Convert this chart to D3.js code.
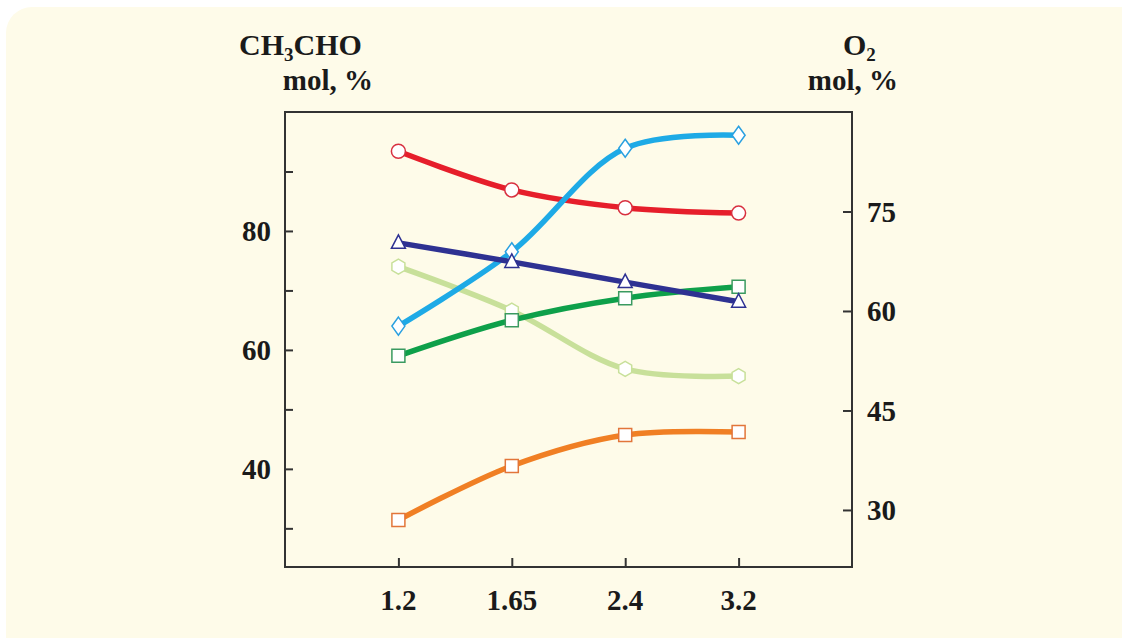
<!DOCTYPE html>
<html>
<head>
<meta charset="utf-8">
<script src="https://cdn.jsdelivr.net/npm/d3@7"></script>
<style>
  html, body { margin: 0; padding: 0; background: #ffffff; }
  svg { display: block; }
  text { font-family: "Liberation Serif", "Times New Roman", serif; font-weight: bold; fill: #1a1a1a; }
</style>
</head>
<body>
<svg id="chart"></svg>
<script>
// x categories (ratio)
var categories = ["1.2", "1.65", "2.4", "3.2"]

// series values, read on the left axis (CH3CHO mol, %)
var redCircles    = [93.4, 86.9, 83.9, 83.0]
var blueDiamonds  = [64.0, 76.5, 93.9, 96.1]
var navyTriangles = [78.0, 74.8, 71.4, 68.1]
var greenSquares  = [59.0, 65.0, 68.7, 70.6]
var paleHexagons  = [74.0, 66.6, 56.8, 55.6]
var orangeSquares = [31.4, 40.5, 45.7, 46.2]

var leftTicks = [30, 40, 50, 60, 70, 80, 90]
var leftLabels = [40, 60, 80]
var rightTicks = [30, 45, 60, 75]

var width = 1122
var height = 638

var svg = d3.select('#chart').attr('width', width).attr('height', height)

// cream panel
svg.append('rect')
  .attr('x', 6).attr('y', 7)
  .attr('width', width + 30).attr('height', height + 30)
  .attr('rx', 26)
  .attr('fill', '#fefbe9')

var plot = { left: 285, right: 852, top: 112, bottom: 567 }

var x = d3.scalePoint()
  .domain(categories)
  .range([plot.left, plot.right])
  .padding(1)

var yLeft = d3.scaleLinear().domain([23.5, 100]).range([plot.bottom, plot.top])
var yRight = d3.scaleLinear().domain([21.4, 90]).range([plot.bottom, plot.top])

// frame
svg.append('rect')
  .attr('x', plot.left).attr('y', plot.top)
  .attr('width', plot.right - plot.left).attr('height', plot.bottom - plot.top)
  .attr('fill', 'none')
  .attr('stroke', '#333')
  .attr('stroke-width', 2)

// axes with inward ticks
var axL = svg.append('g').attr('transform', 'translate(' + plot.left + ',0)')
  .call(d3.axisRight(yLeft).tickValues(leftTicks).tickSize(8).tickFormat(''))
var axR = svg.append('g').attr('transform', 'translate(' + plot.right + ',0)')
  .call(d3.axisLeft(yRight).tickValues(rightTicks).tickSize(9).tickFormat(''))
var axB = svg.append('g').attr('transform', 'translate(0,' + plot.bottom + ')')
  .call(d3.axisTop(x).tickSize(9).tickFormat(''))
;[axL, axR, axB].forEach(function (a) {
  a.select('.domain').remove()
  a.selectAll('line').attr('stroke', '#333').attr('stroke-width', 2)
})

// tick labels
svg.append('g').selectAll('text')
  .data(leftLabels)
  .enter().append('text')
    .attr('x', 271)
    .attr('y', function (d) { return yLeft(d) })
    .attr('dy', '0.36em')
    .attr('text-anchor', 'end')
    .attr('font-size', 29)
    .text(function (d) { return d })

svg.append('g').selectAll('text')
  .data(rightTicks)
  .enter().append('text')
    .attr('x', 867)
    .attr('y', function (d) { return yRight(d) })
    .attr('dy', '0.36em')
    .attr('text-anchor', 'start')
    .attr('font-size', 29)
    .text(function (d) { return d })

svg.append('g').selectAll('text')
  .data(categories)
  .enter().append('text')
    .attr('x', function (d) { return x(d) })
    .attr('y', 610)
    .attr('text-anchor', 'middle')
    .attr('font-size', 29)
    .text(function (d) { return d })

// axis titles
var tl = svg.append('text').attr('x', 239).attr('y', 55).attr('font-size', 30)
tl.append('tspan').text('CH')
tl.append('tspan').attr('font-size', 19).attr('dy', 6).text('3')
tl.append('tspan').attr('dy', -6).text('CHO')
svg.append('text').attr('x', 373).attr('y', 90).attr('text-anchor', 'end')
  .attr('font-size', 29).text('mol, %')

var tr = svg.append('text').attr('x', 843).attr('y', 55).attr('font-size', 30)
tr.append('tspan').text('O')
tr.append('tspan').attr('font-size', 19).attr('dy', 6).text('2')
svg.append('text').attr('x', 898).attr('y', 90).attr('text-anchor', 'end')
  .attr('font-size', 29).text('mol, %')

// marker shapes
function markerPath(shape) {
  var s = 7.5
  if (shape == 'circle') return d3.symbol().type(d3.symbolCircle).size(Math.PI * 49)()
  if (shape == 'square') return 'M-6.5,-6.5H6.5V6.5H-6.5Z'
  if (shape == 'diamond') return 'M0,-9L6.5,0L0,9L-6.5,0Z'
  if (shape == 'triangle') return 'M0,-8L7,5.5H-7Z'
  if (shape == 'hexagon') {
    var pts = d3.range(6).map(function (i) {
      var a = Math.PI / 3 * i - Math.PI / 2
      return [s * Math.cos(a), s * Math.sin(a)]
    })
    return 'M' + pts.join('L') + 'Z'
  }
}

var series = [
  { values: paleHexagons,  color: '#c8e09a', mark: '#c8e09a', shape: 'hexagon' },
  { values: orangeSquares, color: '#f07f24', mark: '#e2753a', shape: 'square' },
  { values: redCircles,    color: '#e61e2b', mark: '#d83040', shape: 'circle' },
  { values: greenSquares,  color: '#0ea04a', mark: '#3a9a60', shape: 'square' },
  { values: blueDiamonds,  color: '#1eaae6', mark: '#2aa0e0', shape: 'diamond' },
  { values: navyTriangles, color: '#2e3192', mark: '#2e3192', shape: 'triangle' }
]

var line = d3.line()
  .x(function (d) { return x(d.cat) })
  .y(function (d) { return yLeft(d.v) })
  .curve(d3.curveCatmullRom.alpha(0.5))

series.forEach(function (s) {
  var pts = s.values.map(function (v, i) { return { cat: categories[i], v: v } })
  svg.append('path')
    .datum(pts)
    .attr('d', line)
    .attr('fill', 'none')
    .attr('stroke', s.color)
    .attr('stroke-width', 5.5)
    .attr('stroke-linecap', 'round')
})

series.forEach(function (s) {
  var pts = s.values.map(function (v, i) { return { cat: categories[i], v: v } })
  svg.append('g').selectAll('path')
    .data(pts)
    .enter().append('path')
      .attr('transform', function (d) { return 'translate(' + x(d.cat) + ',' + yLeft(d.v) + ')' })
      .attr('d', markerPath(s.shape))
      .attr('fill', '#ffffff')
      .attr('stroke', s.mark)
      .attr('stroke-width', 1.5)
})
</script>
</body>
</html>
